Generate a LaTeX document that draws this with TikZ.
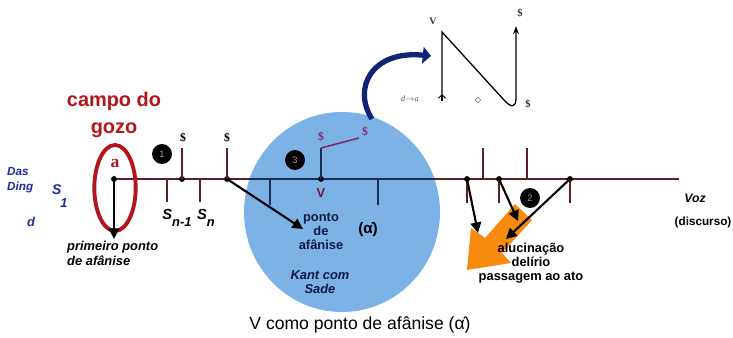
\documentclass[tikz,border=0pt]{standalone}
\usepackage{fontspec}
\setmainfont{Liberation Sans}
\newfontfamily\seriffont{Liberation Serif}
\usetikzlibrary{arrows.meta,shapes.geometric}
\definecolor{lineRed}{RGB}{95,30,35}
\definecolor{gozoRed}{RGB}{178,22,28}
\definecolor{blobBlue}{RGB}{124,178,229}
\definecolor{navyLine}{RGB}{25,45,85}
\definecolor{navyText}{RGB}{15,25,70}
\definecolor{dingBlue}{RGB}{25,45,160}
\definecolor{sPurple}{RGB}{130,40,110}
\definecolor{vMaroon}{RGB}{110,20,60}
\definecolor{arrOrange}{RGB}{247,138,15}
\definecolor{curveNavy}{RGB}{15,35,120}
\newcommand{\alphadot}{α̇}
\begin{document}
\begin{tikzpicture}[x=0.03cm,y=-0.03cm,
  dot/.style={circle,fill=black,inner sep=0pt,minimum size=5pt},
  numdisc/.style={circle,fill=black,inner sep=0pt,minimum size=17pt,text=black!40,font=\fontsize{8}{8}\selectfont},
  axis/.style={draw=lineRed,line width=1.6pt},
  navyaxis/.style={draw=navyLine,line width=1.6pt},
  blkarrow/.style={draw=black,line width=1.8pt,-{Triangle[length=9pt,width=9pt]}},
  dollar/.style={font=\seriffont\bfseries\fontsize{10}{10}\selectfont,inner sep=0pt},
  lbl/.style={inner sep=0pt,align=center},
  nlabel/.style={lbl,font=\bfseries\itshape\fontsize{12.5}{13}\selectfont},
  graphline/.style={draw=black,line width=1.1pt}
]
\useasboundingbox (0,0) rectangle (733,337);
\fill[white] (0,0) rectangle (733,337);

% blue field
\fill[blobBlue] (342,212) ellipse [x radius=2.94cm, y radius=3cm];

% main axis
\coordinate (lineL) at (114,179);
\coordinate (lineR) at (679,179);
\draw[axis] (lineL) -- (lineR);
\begin{scope}
  \clip (342,212) ellipse [x radius=2.94cm, y radius=3cm];
  \draw[navyaxis] (230,179) -- (460,179);
\end{scope}

% red ellipse and a
\draw[gozoRed,line width=3.3pt] (115,188) ellipse [x radius=0.62cm, y radius=1.29cm];
\node[lbl,text=gozoRed,font=\seriffont\bfseries\fontsize{15}{15}\selectfont] (aLetter) at (115,163) {a};
\node[lbl,text=gozoRed,font=\bfseries\fontsize{17}{20}\selectfont] (campo) at (114,101) {campo do};
\node[lbl,text=gozoRed,font=\bfseries\fontsize{17}{20}\selectfont] (gozo) at (114,130) {gozo};

% left labels
\node[lbl,anchor=west,text=dingBlue,font=\bfseries\itshape\fontsize{10}{10}\selectfont] (das) at (7,172) {Das};
\node[lbl,anchor=west,text=dingBlue,font=\bfseries\itshape\fontsize{10}{10}\selectfont] (ding) at (7,187) {Ding};
\node[lbl,anchor=west,text=dingBlue,font=\bfseries\itshape\fontsize{12}{12}\selectfont] (sone) at (52,190) {S};
\node[lbl,text=dingBlue,font=\bfseries\itshape\fontsize{11}{11}\selectfont] (sonesub) at (64,203) {1};
\node[lbl,text=dingBlue,font=\bfseries\itshape\fontsize{11}{11}\selectfont] (dd) at (31,222) {d};

% dot a and first arrow
\node[dot] (dA) at (114,179) {};
\coordinate (primTip) at (114,239);
\draw[blkarrow] (dA.center) -- (primTip);
\node[lbl,anchor=west,font=\bfseries\itshape\fontsize{11}{11}\selectfont] (prim1) at (67,247) {primeiro ponto};
\node[lbl,anchor=west,font=\bfseries\itshape\fontsize{11}{11}\selectfont] (prim2) at (67,261) {de afânise};

% chain s
\node[numdisc] (c1) at (162,154) {1};
\node[dot] (d1) at (182,179) {};
\node[dot] (d2) at (227,179) {};
\coordinate (t1) at (182,148);
\coordinate (t2) at (227,148);
\draw[axis] (d1.center) -- (t1);
\draw[axis] (d2.center) -- (t2);
\node[dollar] (s1) at (183,138) {\$};
\node[dollar] (s2) at (227,138) {\$};
\coordinate (b1) at (167,179);
\coordinate (b1e) at (167,202);
\coordinate (b2) at (200,179);
\coordinate (b2e) at (200,202);
\draw[axis] (b1) -- (b1e);
\draw[axis] (b2) -- (b2e);
\node[nlabel] (snm) at (177,218) {S\raisebox{-6pt}{\fontsize{11}{11}\selectfont n-1}};
\node[nlabel] (sn) at (206,218) {S\raisebox{-6pt}{\fontsize{11}{11}\selectfont n}};

% arrow into the field
\coordinate (fieldTip) at (303,229);
\draw[blkarrow] (d2.center) -- (fieldTip);

% inside the field
\coordinate (f1) at (270,179);
\coordinate (f1e) at (270,205);
\coordinate (f2) at (378,179);
\coordinate (f2e) at (378,205);
\draw[navyaxis] (f1) -- (f1e);
\draw[navyaxis] (f2) -- (f2e);
\node[dot] (dV) at (321,179) {};
\coordinate (vUp) at (321,148);
\coordinate (vDiag) at (359,138);
\draw[navyaxis] (dV.center) -- (vUp);
\draw[draw=sPurple,line width=1.3pt] (vUp) -- (vDiag);
\node[dollar,text=sPurple] (s3) at (321,137) {\$};
\node[dollar,text=sPurple] (s4) at (365,132) {\$};
\node[numdisc] (c3) at (295,160) {3};
\node[lbl,text=vMaroon,font=\bfseries\fontsize{11}{11}\selectfont] (vlab) at (321,193) {V};
\node[lbl,text=navyText,font=\bfseries\fontsize{11}{12}\selectfont] (ponto) at (321,231) {ponto\\de\\afânise};
\node[lbl,font=\bfseries\fontsize{13}{13}\selectfont] (alphalab) at (368,230) {(\alphadot)};
\node[lbl,text=navyText,font=\bfseries\itshape\fontsize{11}{12}\selectfont] (kant) at (320,282) {Kant com\\Sade};

% caption
\node[lbl,font=\fontsize{15}{15}\selectfont] (caption) at (360,325) {V como ponto de afânise (\alphadot)};

% right part
\node[dot] (r1) at (467,179) {};
\node[dot] (r2) at (499,179) {};
\node[dot] (r3) at (570,179) {};
\coordinate (u1) at (483,179);
\coordinate (u1e) at (483,148);
\coordinate (u2) at (527,179);
\coordinate (u2e) at (527,148);
\draw[axis] (u1) -- (u1e);
\draw[axis] (u2) -- (u2e);
\coordinate (r1e) at (467,203);
\coordinate (r2e) at (499,203);
\coordinate (r3e) at (570,203);
\draw[axis] (r1.center) -- (r1e);
\draw[axis] (r2.center) -- (r2e);
\draw[axis] (r3.center) -- (r3e);

% orange arrow
\fill[arrOrange] (467,270) -- (471,228) -- (485,238) -- (515,204) -- (532,220) -- (502,253) -- (511,263) -- cycle;
\node[lbl,font=\bfseries\fontsize{11}{11.8}\selectfont] (aluc) at (531,263) {alucinação\\delírio\\passagem ao ato};
\coordinate (o1) at (478,233);
\coordinate (o2) at (518,221);
\coordinate (o3) at (506,239);
\draw[blkarrow] (r1.center) -- (o1);
\draw[blkarrow] (r2.center) -- (o2);
\draw[blkarrow] (r3.center) -- (o3);
\node[numdisc] (c2) at (530,198) {2};

\node[lbl,font=\bfseries\itshape\fontsize{10.5}{10.5}\selectfont] (voz) at (695,198) {Voz};
\node[lbl,font=\bfseries\fontsize{10}{10}\selectfont] (disc) at (703,222) {(discurso)};

% curved arrow
\coordinate (cvStart) at (372,119);
\coordinate (cvEnd) at (431,56);
\draw[curveNavy,line width=4.5pt,-{Triangle[length=7pt,width=14pt]}] (cvStart) .. controls (352,88) and (372,50) .. (cvEnd);

% graph fragment
\coordinate (gBot) at (442,99);
\coordinate (gTop) at (442,32);
\coordinate (gLow) at (504,100);
\coordinate (gRise) at (516,98);
\coordinate (gTip) at (516,26);
\draw[graphline,-{Stealth[length=7pt,width=5pt]}] (gBot) -- (gTop) -- (gLow) .. controls (511,108) and (516,108) .. (gRise) -- (gTip);
\coordinate (gTail) at (442,94);
\coordinate (gTailB) at (442,101);
\draw[graphline,line width=0.9pt,-{Straight Barb[length=3pt,width=6pt]}] (gTailB) -- (gTail);
\node[lbl,font=\seriffont\bfseries\fontsize{8.5}{8.5}\selectfont,text=black!80] (gV) at (433,21) {V};
\node[dollar,font=\seriffont\bfseries\fontsize{9}{9}\selectfont,text=black!80] (gS1) at (520,13) {\$};
\node[dollar,font=\seriffont\bfseries\fontsize{9}{9}\selectfont,text=black!80] (gS2) at (528,104) {\$};
\node[lbl,text=black!65,font=\seriffont\itshape\fontsize{7}{7}\selectfont] (gda) at (410,99) {d$\rightarrow$a};
\node[diamond,draw=black!55,line width=0.5pt,inner sep=0pt,minimum size=5pt] (gdia) at (478,100) {};
\end{tikzpicture}
\end{document}
